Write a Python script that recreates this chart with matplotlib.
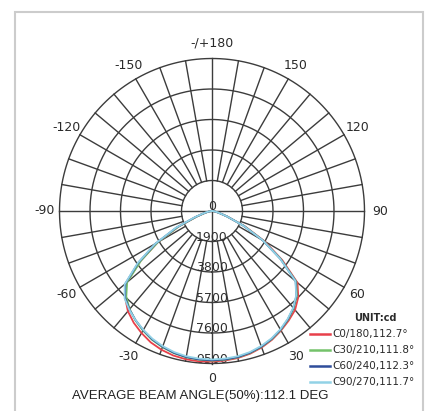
import numpy as np
import matplotlib.pyplot as plt
from matplotlib.lines import Line2D
from matplotlib.patches import Rectangle

# gamma angles, -90 .. 90 in 5 degree steps
gamma = [-90, -85, -80, -75, -70, -65, -60, -55, -50, -45, -40, -35, -30, -25, -20, -15, -10, -5,
         0, 5, 10, 15, 20, 25, 30, 35, 40, 45, 50, 55, 60, 65, 70, 75, 80, 85, 90]

c0_180 = [0, 80, 200, 450, 1000, 2300, 3900, 5450, 6950, 7650, 8150, 8500, 8780, 9030, 9200, 9320, 9380, 9400,
          9380, 9350, 9300, 9200, 9050, 8850, 8600, 8330, 8050, 7600, 6950, 5350, 3800, 2250, 1000, 450, 200, 80, 0]
c30_210 = [0, 80, 200, 450, 1000, 2300, 3900, 5400, 6900, 7550, 7980, 8320, 8600, 8850, 9030, 9170, 9260, 9300,
           9320, 9300, 9260, 9160, 9010, 8810, 8560, 8260, 7920, 7480, 6850, 5250, 3700, 2200, 1000, 450, 200, 80, 0]
c60_240 = [0, 80, 220, 500, 1100, 2450, 4050, 5600, 7050, 7650, 8000, 8300, 8570, 8820, 9000, 9150, 9240, 9280,
           9300, 9280, 9240, 9140, 8990, 8790, 8540, 8240, 7890, 7440, 6800, 5200, 3650, 2150, 1000, 450, 200, 80, 0]
c90_270 = [0, 90, 240, 520, 1150, 2500, 4100, 5650, 7100, 7700, 8020, 8300, 8550, 8780, 8960, 9100, 9190, 9230,
           9250, 9230, 9190, 9100, 8950, 8760, 8510, 8210, 7870, 7420, 6780, 5180, 3650, 2150, 1000, 450, 200, 80, 0]

series = [c0_180, c30_210, c60_240, c90_270]
labels = ['C0/180,112.7°', 'C30/210,111.8°', 'C60/240,112.3°', 'C90/270,111.7°']
colors = ['#e8404a', '#74c26a', '#2f4d9a', '#92d2e6']

rings = [1900, 3800, 5700, 7600, 9500]
angle_ticks = [0, 30, 60, 90, 120, 150, 180, -150, -120, -90, -60, -30]
angle_labels = ['0', '30', '60', '90', '120', '150', '-/+180', '-150', '-120', '-90', '-60', '-30']

W, H = 431, 411
fig = plt.figure(figsize=(W / 100, H / 100), dpi=100)

# polar axes: centre (212, 211) px, radius 152.5 px
cx, cy, R = 212, 211, 152.5
ax = fig.add_axes([(cx - R) / W, (H - cy - R) / H, 2 * R / W, 2 * R / H], projection='polar')
ax.set_theta_zero_location('S')
ax.set_theta_direction(1)
ax.set_ylim(0, rings[-1])
ax.grid(False)
ax.set_xticks([])
ax.set_yticks([])
ax.spines['polar'].set_visible(False)

grid_col = '#3c3c3c'
t = np.linspace(0, 2 * np.pi, 400)
for r in rings:
    ax.plot(t, np.full_like(t, r), color=grid_col, lw=1.0, clip_on=False, zorder=1)
for a in range(0, 360, 10):
    r0 = 0 if a % 90 == 0 else rings[0]
    ax.plot([np.radians(a)] * 2, [r0, rings[-1]], color=grid_col, lw=1.0, clip_on=False, zorder=1)

# ring labels on the bottom axis
ax.text(np.pi, 250, '0', ha='center', va='center', fontsize=9, color='#2e2e2e', zorder=2)
for r in rings:
    ax.text(0, r - 250, str(r), ha='center', va='center', fontsize=9, color='#2e2e2e', zorder=2)

for a, lab in zip(angle_ticks, angle_labels):
    ax.text(np.radians(a), 10450, lab, ha='center', va='center', fontsize=9,
            color='#2a2a2a', clip_on=False)

th = np.radians(gamma)
for vals, col in zip(series, colors):
    ax.plot(th, vals, color=col, lw=1.3, zorder=3, clip_on=False)

# legend, drawn by hand
fig.text(375 / W, 1 - 318 / H, 'UNIT:cd', ha='center', va='center', fontsize=7,
         fontweight='bold', color='#2a2a2a')
for i, (lab, col) in enumerate(zip(labels, colors)):
    y = 1 - (334 + i * 16) / H
    fig.add_artist(Line2D([310 / W, 330 / W], [y, y], color=col, lw=1.8, transform=fig.transFigure))
    fig.text(332 / W, y, lab, ha='left', va='center', fontsize=7.5, color='#2a2a2a')

fig.text(200 / W, 1 - 396 / H, 'AVERAGE BEAM ANGLE(50%):112.1 DEG', ha='center', va='center',
         fontsize=9.5, family='Liberation Sans', color='#222222')

fig.add_artist(Rectangle((15 / W, -0.1), 408 / W, 1.1 - 12 / H, fill=False, edgecolor='#cccccc',
                         lw=1.5, transform=fig.transFigure))

fig.savefig('out.png', dpi=100)
